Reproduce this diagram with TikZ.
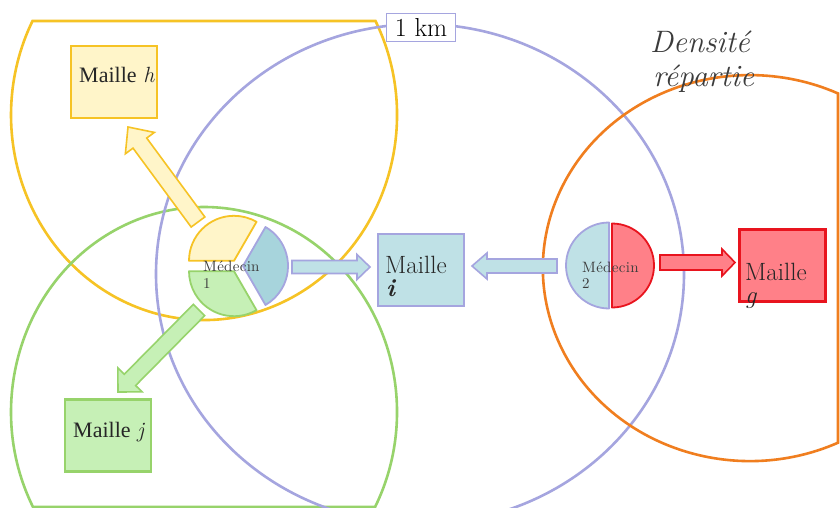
\documentclass[tikz,border=0pt]{standalone}
\usepackage{fontspec}
\usetikzlibrary{calc}
\newfontfamily\timesfont{Liberation Serif}
\newfontfamily\medfont[LetterSpace=2]{lmroman10-regular.otf}

\definecolor{ringY}{HTML}{F6C325}
\definecolor{fillY}{HTML}{FFF5C9}
\definecolor{ringG}{HTML}{97D36B}
\definecolor{fillG}{HTML}{C6F0B6}
\definecolor{ringP}{HTML}{A5A5DF}
\definecolor{fillB}{HTML}{BFE1E6}
\definecolor{fillBd}{HTML}{A7D4DC}
\definecolor{ringO}{HTML}{F07E1F}
\definecolor{fillR}{HTML}{FF8088}
\definecolor{lineR}{HTML}{E8141E}
\definecolor{txt}{HTML}{262626}
\definecolor{soft}{HTML}{3C3C3C}

% block arrow: style, tail, tip, half shaft width, half head width, head length
\newcommand\fatarrow[6]{%
  \coordinate (hb) at ($(#3)!#6!(#2)$);
  \draw[#1] ($(#2)!#4!90:(#3)$) -- ($(hb)!#4!90:(#3)$) -- ($(hb)!#5!90:(#3)$)
    -- (#3) -- ($(hb)!#5!-90:(#3)$) -- ($(hb)!#4!-90:(#3)$)
    -- ($(#2)!#4!-90:(#3)$) -- cycle;
}

\begin{document}
\begin{tikzpicture}[x=1pt,y=-1pt,
  ring/.style={line width=2.6pt},
  cellbox/.style={draw, line width=2.2pt, minimum width=86pt, minimum height=72pt, inner sep=0pt},
  piece/.style={line width=1.8pt, line join=round},
  fat/.style={line width=1.6pt, line join=miter},
  lbl/.style={anchor=base west, inner sep=0pt, text=txt},
  medlbl/.style={anchor=base west, inner sep=0pt, text=soft, font=\medfont\fontsize{15}{17}\selectfont},
  maillelbl/.style={lbl, font=\fontsize{25}{27}\selectfont},
  timeslbl/.style={lbl, font=\fontsize{22}{24}\selectfont}
]
\fill[white] (0,0) rectangle (840,508);
\useasboundingbox (0,0) rectangle (840,508);
\clip (0,0) rectangle (840,508);

% coverage zones
\draw[ring, ringY] (375.5,21) arc[start angle=-27.3, end angle=207.3, x radius=193, y radius=205] -- cycle;
\draw[ring, ringG] (33,507) arc[start angle=152.4, end angle=387.6, x radius=193, y radius=205] -- cycle;
\draw[ring, ringP] (420,274) ellipse [x radius=264, y radius=250];
\draw[ring, ringO] (838,442.7) arc[start angle=64.8, end angle=295.2, x radius=207, y radius=193] -- cycle;

\node (km) [draw=ringP, line width=1pt, fill=white, minimum width=69pt, minimum height=28pt, inner sep=0pt]
  at (421,27.5) {\fontsize{26}{26}\selectfont 1 km};

% named ends of the block arrows
\coordinate (yT) at (198,222);  \coordinate (yH) at (128,127);
\coordinate (gT) at (199,310);  \coordinate (gH) at (118,392);
\coordinate (bT) at (292,267);  \coordinate (bH) at (370,267);
\coordinate (cT) at (557,266);  \coordinate (cH) at (472,266);
\coordinate (rT) at (660,262.5);\coordinate (rH) at (735,262.5);

\fatarrow{fat, draw=ringY, fill=fillY}{yT}{yH}{8.5pt}{18pt}{20pt}
\fatarrow{fat, draw=ringG, fill=fillG}{gT}{gH}{8pt}{17pt}{17pt}
\fatarrow{fat, draw=ringP, fill=fillB}{bT}{bH}{6.5pt}{12.5pt}{13pt}
\fatarrow{fat, draw=ringP, fill=fillB}{cT}{cH}{7pt}{13pt}{15pt}
\fatarrow{fat, draw=lineR, fill=fillR}{rT}{rH}{7.5pt}{13.5pt}{13pt}

% doctor 1: exploded pie
\coordinate (m1) at (237,266);
\draw[piece, draw=ringY, fill=fillY] ($(m1)+(240:6)$) -- ++(180:45) arc[start angle=180, end angle=300, radius=45] -- cycle;
\draw[piece, draw=ringG, fill=fillG] ($(m1)+(120:6)$) -- ++(60:45) arc[start angle=60, end angle=180, radius=45] -- cycle;
\draw[piece, draw=ringP, fill=fillBd] ($(m1)+(0:6)$) -- ++(300:45) arc[start angle=300, end angle=420, radius=45] -- cycle;

% doctor 2: two halves
\draw[piece, draw=ringP, fill=fillB] (609,222.5) arc[start angle=270, end angle=90, radius=43] -- cycle;
\draw[piece, draw=lineR, fill=fillR] (612,223.5) arc[start angle=270, end angle=450, radius=42] -- cycle;

% cells
\node (mh) [cellbox, draw=ringY, fill=fillY] at (114,82) {};
\node (mi) [cellbox, draw=ringP, fill=fillB] at (421,270) {};
\node (mg) [cellbox, draw=lineR, fill=fillR] at (782.5,265.5) {};
\node (mj) [cellbox, draw=ringG, fill=fillG] at (108,435.5) {};

% labels
\node (th) [timeslbl] at (79,83) {{\timesfont Maille} {\itshape h}};
\node (tj) [timeslbl] at (73,437) {{\timesfont Maille} {\itshape j}};
\node (ti1) [maillelbl] at (385,273) {Maille};
\node (ti2) [maillelbl] at (386,296) {\bfseries\itshape i};
\node (tg1) [maillelbl] at (745,280) {Maille};
\node (tg2) [maillelbl] at (745,303) {\itshape g};

\node (d1a) [medlbl] at (203,271) {Médecin};
\node (d1b) [medlbl] at (203,288) {1};
\node (d2a) [medlbl] at (582,272) {Médecin};
\node (d2b) [medlbl] at (582,288) {2};

\node (dens1) [lbl, text=soft, font=\fontsize{31}{34}\selectfont\itshape] at (650,53) {Densité};
\node (dens2) [lbl, text=soft, font=\fontsize{31}{34}\selectfont\itshape] at (653,87) {répartie};
\end{tikzpicture}
\end{document}
